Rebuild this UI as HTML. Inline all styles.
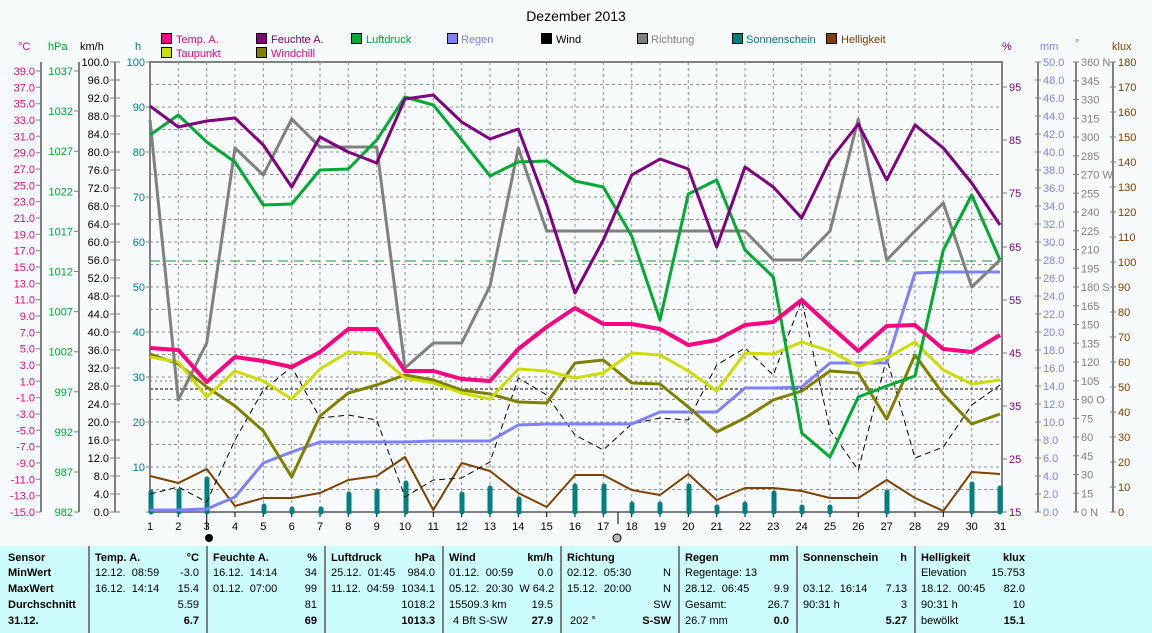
<!DOCTYPE html>
<html><head><meta charset="utf-8">
<style>
body{margin:0;background:#f8fbfb;width:1152px;height:633px;overflow:hidden;font-family:"Liberation Sans",sans-serif;}
svg{position:absolute;left:0;top:0;}
text{font-family:"Liberation Sans",sans-serif;font-size:11px;}
.tb{position:absolute;left:0;top:546px;width:1152px;height:87px;background:#ccfcfc;}
.col{position:absolute;top:0;height:87px;border-left:2px solid #808080;}
.r{position:absolute;font-size:11px;white-space:nowrap;}
.b{font-weight:bold;}
</style></head><body>
<svg width="1152" height="546" xmlns="http://www.w3.org/2000/svg">
<text x="576" y="21" text-anchor="middle" style="font-size:14px">Dezember 2013</text>
<!-- legend -->
<g stroke="#000" stroke-width="1">
<rect x="161.5" y="33.5" width="10" height="10" fill="#ff0080"/>
<rect x="256.5" y="33.5" width="10" height="10" fill="#800080"/>
<rect x="351.5" y="33.5" width="10" height="10" fill="#00aa33"/>
<rect x="447.5" y="33.5" width="10" height="10" fill="#8080ff"/>
<rect x="541.5" y="33.5" width="10" height="10" fill="#000"/>
<rect x="637.5" y="33.5" width="10" height="10" fill="#808080"/>
<rect x="732.5" y="33.5" width="10" height="10" fill="#008080"/>
<rect x="826.5" y="33.5" width="10" height="10" fill="#804000"/>
<rect x="161.5" y="47.5" width="10" height="10" fill="#ccdd00"/>
<rect x="256.5" y="47.5" width="10" height="10" fill="#808000"/>
</g>
<g style="font-size:12px">
<text x="176" y="43" fill="#ff0080">Temp. A.</text>
<text x="271" y="43" fill="#800080">Feuchte A.</text>
<text x="366" y="43" fill="#00aa33">Luftdruck</text>
<text x="461" y="43" fill="#8080ff">Regen</text>
<text x="556" y="43" fill="#000">Wind</text>
<text x="651" y="43" fill="#808080">Richtung</text>
<text x="746" y="43" fill="#008080">Sonnenschein</text>
<text x="841" y="43" fill="#804000">Helligkeit</text>
<text x="176" y="57" fill="#ff0080">Taupunkt</text>
<text x="271" y="57" fill="#ff0080">Windchill</text>
</g>
<!-- axis headers -->
<text x="18" y="50" fill="#ff0080">°C</text>
<text x="48" y="50" fill="#00aa33">hPa</text>
<text x="80" y="50" fill="#000">km/h</text>
<text x="135" y="50" fill="#008080">h</text>
<text x="1002" y="50" fill="#800080">%</text>
<text x="1040" y="50" fill="#8080ff">mm</text>
<text x="1075" y="47" fill="#808080">°</text>
<text x="1112" y="50" fill="#804000">klux</text>
<!-- grid -->
<g stroke="#909090" stroke-width="1" stroke-dasharray="3,3">
<path d="M178.3 62V512M206.7 62V512M235 62V512M263.3 62V512M291.7 62V512M320 62V512M348.3 62V512M376.7 62V512M405 62V512M433.3 62V512M461.7 62V512M490 62V512M518.3 62V512M546.7 62V512M575 62V512M603.3 62V512M631.7 62V512M660 62V512M688.3 62V512M716.7 62V512M745 62V512M773.3 62V512M801.7 62V512M830 62V512M858.3 62V512M886.7 62V512M915 62V512M943.3 62V512M971.7 62V512"/>
<path d="M150 84.5H1002M150 107H1002M150 129.5H1002M150 152H1002M150 174.5H1002M150 197H1002M150 219.5H1002M150 242H1002M150 264.5H1002M150 287H1002M150 309.5H1002M150 332H1002M150 354.5H1002M150 377H1002M150 399.5H1002M150 422H1002M150 444.5H1002M150 467H1002M150 489.5H1002"/>
</g>
<path d="M150 261H1002" stroke="#00aa33" stroke-dasharray="10,6"/>
<path d="M150 389H1002" stroke="#000" stroke-dasharray="3,2"/>
<path d="M150 381H1002" stroke="#000" stroke-dasharray="2,3" opacity="0.5"/>
<!-- left axes -->
<g stroke="#808080" stroke-width="2" fill="none">
<path d="M41 62V512M79 62V512M115 62V512"/>
<rect x="150" y="62" width="852" height="450"/>
<path d="M1038 62V512M1076 62V512M1113 62V512"/>
</g>
<g stroke="#808080" stroke-width="1">
<path d="M36 71h5M36 87.3h5M36 103.7h5M36 120h5M36 136.3h5M36 152.7h5M36 169h5M36 185.3h5M36 201.7h5M36 218h5M36 234.3h5M36 250.7h5M36 267h5M36 283.3h5M36 299.7h5M36 316h5M36 332.3h5M36 348.7h5M36 365h5M36 381.3h5M36 397.7h5M36 414h5M36 430.3h5M36 446.7h5M36 463h5M36 479.3h5M36 495.7h5M36 512h5"/>
<path d="M74 71h5M74 111h5M74 151.2h5M74 191.3h5M74 231.4h5M74 271.5h5M74 311.6h5M74 351.7h5M74 391.8h5M74 431.9h5M74 472h5M74 512h5"/>
<path d="M110 62h10M110 80h10M110 98h10M110 116h10M110 134h10M110 152h10M110 170h10M110 188h10M110 206h10M110 224h10M110 242h10M110 260h10M110 278h10M110 296h10M110 314h10M110 332h10M110 350h10M110 368h10M110 386h10M110 404h10M110 422h10M110 440h10M110 458h10M110 476h10M110 494h10M110 512h10"/>
<path d="M146 62h4M146 107h4M146 152h4M146 197h4M146 242h4M146 287h4M146 332h4M146 377h4M146 422h4M146 467h4M146 512h4"/>
<path d="M1002 87h5M1002 140h5M1002 193h5M1002 247h5M1002 300h5M1002 353h5M1002 406h5M1002 459h5M1002 512h5"/>
<path d="M1035 62h6M1035 80h6M1035 98h6M1035 116h6M1035 134h6M1035 152h6M1035 170h6M1035 188h6M1035 206h6M1035 224h6M1035 242h6M1035 260h6M1035 278h6M1035 296h6M1035 314h6M1035 332h6M1035 350h6M1035 368h6M1035 386h6M1035 404h6M1035 422h6M1035 440h6M1035 458h6M1035 476h6M1035 494h6M1035 512h6"/>
<path d="M1073 62h6M1073 80.75h6M1073 99.5h6M1073 118.25h6M1073 137h6M1073 155.75h6M1073 174.5h6M1073 193.25h6M1073 212h6M1073 230.75h6M1073 249.5h6M1073 268.25h6M1073 287h6M1073 305.75h6M1073 324.5h6M1073 343.25h6M1073 362h6M1073 380.75h6M1073 399.5h6M1073 418.25h6M1073 437h6M1073 455.75h6M1073 474.5h6M1073 493.25h6M1073 512h6"/>
<path d="M1110 62h6M1110 87h6M1110 112h6M1110 137h6M1110 162h6M1110 187h6M1110 212h6M1110 237h6M1110 262h6M1110 287h6M1110 312h6M1110 337h6M1110 362h6M1110 387h6M1110 412h6M1110 437h6M1110 462h6M1110 487h6M1110 512h6"/>
<path d="M178.3 512v5M206.7 512v5M235 512v5M263.3 512v5M291.7 512v5M320 512v5M348.3 512v5M376.7 512v5M405 512v5M433.3 512v5M461.7 512v5M490 512v5M518.3 512v5M546.7 512v5M575 512v5M603.3 512v5M618 512v12M631.7 512v5M660 512v5M688.3 512v5M716.7 512v5M745 512v5M773.3 512v5M801.7 512v5M830 512v5M858.3 512v5M886.7 512v5M915 512v5M943.3 512v5M971.7 512v5M206.7 512v18" stroke="#000"/>
</g>
<g fill="#ff0080" text-anchor="end">
<text x="35" y="75">39.0</text><text x="35" y="91.3">37.0</text><text x="35" y="107.7">35.0</text><text x="35" y="124">33.0</text><text x="35" y="140.3">31.0</text><text x="35" y="156.7">29.0</text><text x="35" y="173">27.0</text><text x="35" y="189.3">25.0</text><text x="35" y="205.7">23.0</text><text x="35" y="222">21.0</text><text x="35" y="238.3">19.0</text><text x="35" y="254.7">17.0</text><text x="35" y="271">15.0</text><text x="35" y="287.3">13.0</text><text x="35" y="303.7">11.0</text><text x="35" y="320">9.0</text><text x="35" y="336.3">7.0</text><text x="35" y="352.7">5.0</text><text x="35" y="369">3.0</text><text x="35" y="385.3">1.0</text><text x="35" y="401.7">-1.0</text><text x="35" y="418">-3.0</text><text x="35" y="434.3">-5.0</text><text x="35" y="450.7">-7.0</text><text x="35" y="467">-9.0</text><text x="35" y="483.3">-11.0</text><text x="35" y="499.7">-13.0</text><text x="35" y="516">-15.0</text>
</g>
<g fill="#00aa33" text-anchor="end">
<text x="73" y="75">1037</text><text x="73" y="115">1032</text><text x="73" y="155.2">1027</text><text x="73" y="195.3">1022</text><text x="73" y="235.4">1017</text><text x="73" y="275.5">1012</text><text x="73" y="315.6">1007</text><text x="73" y="355.7">1002</text><text x="73" y="395.8">997</text><text x="73" y="435.9">992</text><text x="73" y="476">987</text><text x="73" y="516">982</text>
</g>
<g fill="#000" text-anchor="end">
<text x="109" y="66">100.0</text><text x="109" y="84">96.0</text><text x="109" y="102">92.0</text><text x="109" y="120">88.0</text><text x="109" y="138">84.0</text><text x="109" y="156">80.0</text><text x="109" y="174">76.0</text><text x="109" y="192">72.0</text><text x="109" y="210">68.0</text><text x="109" y="228">64.0</text><text x="109" y="246">60.0</text><text x="109" y="264">56.0</text><text x="109" y="282">52.0</text><text x="109" y="300">48.0</text><text x="109" y="318">44.0</text><text x="109" y="336">40.0</text><text x="109" y="354">36.0</text><text x="109" y="372">32.0</text><text x="109" y="390">28.0</text><text x="109" y="408">24.0</text><text x="109" y="426">20.0</text><text x="109" y="444">16.0</text><text x="109" y="462">12.0</text><text x="109" y="480">8.0</text><text x="109" y="498">4.0</text><text x="109" y="516">0.0</text>
</g>
<g fill="#008080" text-anchor="end">
<text x="145" y="66">100</text><text x="145" y="111">90</text><text x="145" y="156">80</text><text x="145" y="201">70</text><text x="145" y="246">60</text><text x="145" y="291">50</text><text x="145" y="336">40</text><text x="145" y="381">30</text><text x="145" y="426">20</text><text x="145" y="471">10</text>
</g>
<g fill="#800080">
<text x="1009" y="91">95</text><text x="1009" y="144">85</text><text x="1009" y="197">75</text><text x="1009" y="251">65</text><text x="1009" y="304">55</text><text x="1009" y="357">45</text><text x="1009" y="410">35</text><text x="1009" y="463">25</text><text x="1009" y="516">15</text>
</g>
<g fill="#8080ff">
<text x="1043" y="66">50.0</text><text x="1043" y="84">48.0</text><text x="1043" y="102">46.0</text><text x="1043" y="120">44.0</text><text x="1043" y="138">42.0</text><text x="1043" y="156">40.0</text><text x="1043" y="174">38.0</text><text x="1043" y="192">36.0</text><text x="1043" y="210">34.0</text><text x="1043" y="228">32.0</text><text x="1043" y="246">30.0</text><text x="1043" y="264">28.0</text><text x="1043" y="282">26.0</text><text x="1043" y="300">24.0</text><text x="1043" y="318">22.0</text><text x="1043" y="336">20.0</text><text x="1043" y="354">18.0</text><text x="1043" y="372">16.0</text><text x="1043" y="390">14.0</text><text x="1043" y="408">12.0</text><text x="1043" y="426">10.0</text><text x="1043" y="444">8.0</text><text x="1043" y="462">6.0</text><text x="1043" y="480">4.0</text><text x="1043" y="498">2.0</text><text x="1043" y="516">0.0</text>
</g>
<g fill="#808080">
<text x="1081" y="66">360 N</text><text x="1081" y="84.75">345</text><text x="1081" y="103.5">330</text><text x="1081" y="122.25">315</text><text x="1081" y="141">300</text><text x="1081" y="159.75">285</text><text x="1081" y="178.5">270 W</text><text x="1081" y="197.25">255</text><text x="1081" y="216">240</text><text x="1081" y="234.75">225</text><text x="1081" y="253.5">210</text><text x="1081" y="272.25">195</text><text x="1081" y="291">180 S</text><text x="1081" y="309.75">165</text><text x="1081" y="328.5">150</text><text x="1081" y="347.25">135</text><text x="1081" y="366">120</text><text x="1081" y="384.75">105</text><text x="1081" y="403.5">90 O</text><text x="1081" y="422.25">75</text><text x="1081" y="441">60</text><text x="1081" y="459.75">45</text><text x="1081" y="478.5">30</text><text x="1081" y="497.25">15</text><text x="1081" y="516">0 N</text>
</g>
<g fill="#804000">
<text x="1118" y="66">180</text><text x="1118" y="91">170</text><text x="1118" y="116">160</text><text x="1118" y="141">150</text><text x="1118" y="166">140</text><text x="1118" y="191">130</text><text x="1118" y="216">120</text><text x="1118" y="241">110</text><text x="1118" y="266">100</text><text x="1118" y="291">90</text><text x="1118" y="316">80</text><text x="1118" y="341">70</text><text x="1118" y="366">60</text><text x="1118" y="391">50</text><text x="1118" y="416">40</text><text x="1118" y="441">30</text><text x="1118" y="466">20</text><text x="1118" y="491">10</text><text x="1118" y="516">0</text>
</g>
<g fill="#000" text-anchor="middle">
<text x="150" y="530">1</text><text x="178.3" y="530">2</text><text x="206.7" y="530">3</text><text x="235" y="530">4</text><text x="263.3" y="530">5</text><text x="291.7" y="530">6</text><text x="320" y="530">7</text><text x="348.3" y="530">8</text><text x="376.7" y="530">9</text><text x="405" y="530">10</text><text x="433.3" y="530">11</text><text x="461.7" y="530">12</text><text x="490" y="530">13</text><text x="518.3" y="530">14</text><text x="546.7" y="530">15</text><text x="575" y="530">16</text><text x="603.3" y="530">17</text><text x="631.7" y="530">18</text><text x="660" y="530">19</text><text x="688.3" y="530">20</text><text x="716.7" y="530">21</text><text x="745" y="530">22</text><text x="773.3" y="530">23</text><text x="801.7" y="530">24</text><text x="830" y="530">25</text><text x="858.3" y="530">26</text><text x="886.7" y="530">27</text><text x="915" y="530">28</text><text x="943.3" y="530">29</text><text x="971.7" y="530">30</text><text x="1000" y="530">31</text>
</g>
<circle cx="209" cy="538" r="4" fill="#000"/>
<circle cx="617" cy="538" r="4" fill="#bbb" stroke="#000"/>
<!-- sunshine bars -->
<g stroke="#008080" stroke-width="5" stroke-linecap="round">
<path d="M151 512V492M179 512V491M207 512V479M264 512V506M292 512V509M321 512V509M349 512V494M377 512V491M406 512V483M462 512V494M490 512V488M519 512V499M575 512V486M604 512V486M632 512V504M660 512V504M689 512V486M717 512V507M745 512V504M774 512V493M802 512V507M830 512V507M887 512V492M972 512V484M1000 512V488"/>
</g>
<g fill="none" stroke-linejoin="round">
<polyline stroke="#804000" stroke-width="2" points="150,476 178.3,483 206.7,469 235,506 263.3,498 291.7,498 320,493 348.3,480 376.7,476 405,457 433.3,510 461.7,463 490,471 518.3,493 546.7,507 575,475 603.3,475 631.7,490 660,495 688.3,474 716.7,500 745,488 773.3,488 801.7,491 830,498 858.3,498 886.7,480 915,498 943.3,511 971.7,472 1000,474"/>
<polyline stroke="#000" stroke-width="1" stroke-dasharray="6,4" points="150,494 178.3,487 206.7,502 235,440 263.3,390 291.7,367 320,418 348.3,415 376.7,420 405,497 433.3,480 461.7,478 490,462 518.3,378 546.7,395 575,435 603.3,450 631.7,424 660,418 688.3,420 716.7,365 745,348 773.3,375 801.7,300 830,430 858.3,470 886.7,358 915,458 943.3,447 971.7,405 1000,385"/>
<polyline stroke="#8080ff" stroke-width="3" points="150,510 178.3,510 206.7,509 235,497 263.3,463 291.7,452 320,442 348.3,442 376.7,442 405,442 433.3,441 461.7,441 490,441 518.3,425 546.7,424 575,424 603.3,424 631.7,424 660,412 688.3,412 716.7,412 745,388 773.3,388 801.7,387 830,363 858.3,363 886.7,363 915,273 943.3,272 971.7,272 1000,272"/>
<polyline stroke="#808000" stroke-width="3" points="150,354 178.3,364 206.7,387 235,406 263.3,431 291.7,477 320,416 348.3,393 376.7,385 405,375 433.3,380 461.7,390 490,394 518.3,402 546.7,403 575,363 603.3,360 631.7,383 660,384 688.3,407 716.7,432 745,418 773.3,400 801.7,391 830,371 858.3,373 886.7,419 915,355 943.3,394 971.7,424 1000,414"/>
<polyline stroke="#ccdd00" stroke-width="3" points="150,357 178.3,362 206.7,397 235,371 263.3,381 291.7,399 320,369 348.3,352 376.7,354 405,378 433.3,383 461.7,393 490,399 518.3,369 546.7,371 575,378 603.3,373 631.7,353 660,355 688.3,371 716.7,391 745,353 773.3,354 801.7,342 830,351 858.3,366 886.7,358 915,342 943.3,370 971.7,384 1000,380"/>
<polyline stroke="#808080" stroke-width="3" points="150,120 178.3,400 206.7,343 235,148 263.3,175 291.7,119 320,147 348.3,147 376.7,147 405,368 433.3,343 461.7,343 490,286 518.3,148 546.7,231 575,231 603.3,231 631.7,231 660,231 688.3,231 716.7,231 745,231 773.3,260 801.7,260 830,231 858.3,119 886.7,260 915,231 943.3,203 971.7,287 1000,260"/>
<polyline stroke="#00aa33" stroke-width="3" points="150,135 178.3,115 206.7,142 235,162 263.3,205 291.7,204 320,170 348.3,169 376.7,140 405,97 433.3,105 461.7,140 490,176 518.3,162 546.7,161 575,181 603.3,187 631.7,236 660,320 688.3,194 716.7,180 745,250 773.3,277 801.7,433 830,457 858.3,397 886.7,386 915,376 943.3,250 971.7,195 1000,260"/>
<polyline stroke="#800080" stroke-width="3" points="150,106 178.3,127 206.7,121 235,118 263.3,145 291.7,187 320,137 348.3,152 376.7,163 405,99 433.3,95 461.7,122 490,139 518.3,129 546.7,205 575,293 603.3,240 631.7,175 660,159 688.3,169 716.7,247 745,167 773.3,187 801.7,218 830,160 858.3,124 886.7,180 915,125 943.3,148 971.7,183 1000,225"/>
<polyline stroke="#ff0080" stroke-width="4" points="150,348 178.3,350 206.7,382 235,357 263.3,361 291.7,367 320,352 348.3,329 376.7,329 405,371 433.3,371 461.7,379 490,381 518.3,349 546.7,327 575,308 603.3,324 631.7,324 660,329 688.3,345 716.7,340 745,325 773.3,322 801.7,300 830,326 858.3,351 886.7,326 915,325 943.3,349 971.7,352 1000,335"/>
</g>
</svg>
<div class="tb">
<div class="col" style="left:88px"></div><div class="col" style="left:206px"></div><div class="col" style="left:324px"></div><div class="col" style="left:442px"></div><div class="col" style="left:560px"></div><div class="col" style="left:678px"></div><div class="col" style="left:796px"></div><div class="col" style="left:914px"></div>
<div class="r b" style="left:8px;top:6px">Sensor</div><div class="r b" style="left:8px;top:21px">MinWert</div><div class="r b" style="left:8px;top:37px">MaxWert</div><div class="r b" style="left:8px;top:53px">Durchschnitt</div><div class="r b" style="left:8px;top:69px">31.12.</div>

<div class="r b" style="left:95px;top:6px">Temp. A.</div><div class="r b" style="right:953px;top:6px">°C</div>
<div class="r" style="left:95px;top:21px">12.12.&nbsp; 08:59</div><div class="r" style="right:953px;top:21px">-3.0</div>
<div class="r" style="left:95px;top:37px">16.12.&nbsp; 14:14</div><div class="r" style="right:953px;top:37px">15.4</div>
<div class="r" style="right:953px;top:53px">5.59</div><div class="r b" style="right:953px;top:69px">6.7</div>

<div class="r b" style="left:213px;top:6px">Feuchte A.</div><div class="r b" style="right:835px;top:6px">%</div>
<div class="r" style="left:213px;top:21px">16.12.&nbsp; 14:14</div><div class="r" style="right:835px;top:21px">34</div>
<div class="r" style="left:213px;top:37px">01.12.&nbsp; 07:00</div><div class="r" style="right:835px;top:37px">99</div>
<div class="r" style="right:835px;top:53px">81</div><div class="r b" style="right:835px;top:69px">69</div>

<div class="r b" style="left:331px;top:6px">Luftdruck</div><div class="r b" style="right:717px;top:6px">hPa</div>
<div class="r" style="left:331px;top:21px">25.12.&nbsp; 01:45</div><div class="r" style="right:717px;top:21px">984.0</div>
<div class="r" style="left:331px;top:37px">11.12.&nbsp; 04:59</div><div class="r" style="right:717px;top:37px">1034.1</div>
<div class="r" style="right:717px;top:53px">1018.2</div><div class="r b" style="right:717px;top:69px">1013.3</div>

<div class="r b" style="left:449px;top:6px">Wind</div><div class="r b" style="right:599px;top:6px">km/h</div>
<div class="r" style="left:449px;top:21px">01.12.&nbsp; 00:59</div><div class="r" style="right:599px;top:21px">0.0</div>
<div class="r" style="left:449px;top:37px">05.12.&nbsp; 20:30&nbsp; W 64.2</div>
<div class="r" style="left:449px;top:53px">15509.3 km</div><div class="r" style="right:599px;top:53px">19.5</div>
<div class="r" style="left:453px;top:69px">4 Bft S-SW</div><div class="r b" style="right:599px;top:69px">27.9</div>

<div class="r b" style="left:567px;top:6px">Richtung</div>
<div class="r" style="left:567px;top:21px">02.12.&nbsp; 05:30</div><div class="r" style="right:481px;top:21px">N</div>
<div class="r" style="left:567px;top:37px">15.12.&nbsp; 20:00</div><div class="r" style="right:481px;top:37px">N</div>
<div class="r" style="right:481px;top:53px">SW</div>
<div class="r" style="left:570px;top:69px">202 °</div><div class="r b" style="right:481px;top:69px">S-SW</div>

<div class="r b" style="left:685px;top:6px">Regen</div><div class="r b" style="right:363px;top:6px">mm</div>
<div class="r" style="left:685px;top:21px">Regentage: 13</div>
<div class="r" style="left:685px;top:37px">28.12.&nbsp; 06:45</div><div class="r" style="right:363px;top:37px">9.9</div>
<div class="r" style="left:685px;top:53px">Gesamt:</div><div class="r" style="right:363px;top:53px">26.7</div>
<div class="r" style="left:685px;top:69px">26.7 mm</div><div class="r b" style="right:363px;top:69px">0.0</div>

<div class="r b" style="left:803px;top:6px">Sonnenschein</div><div class="r b" style="right:245px;top:6px">h</div>
<div class="r" style="left:803px;top:37px">03.12.&nbsp; 16:14</div><div class="r" style="right:245px;top:37px">7.13</div>
<div class="r" style="left:803px;top:53px">90:31 h</div><div class="r" style="right:245px;top:53px">3</div>
<div class="r b" style="right:245px;top:69px">5.27</div>

<div class="r b" style="left:921px;top:6px">Helligkeit</div><div class="r b" style="right:127px;top:6px">klux</div>
<div class="r" style="left:921px;top:21px">Elevation</div><div class="r" style="right:127px;top:21px">15.753</div>
<div class="r" style="left:921px;top:37px">18.12.&nbsp; 00:45</div><div class="r" style="right:127px;top:37px">82.0</div>
<div class="r" style="left:921px;top:53px">90:31 h</div><div class="r" style="right:127px;top:53px">10</div>
<div class="r" style="left:921px;top:69px">bewölkt</div><div class="r b" style="right:127px;top:69px">15.1</div>
</div>
</body></html>
